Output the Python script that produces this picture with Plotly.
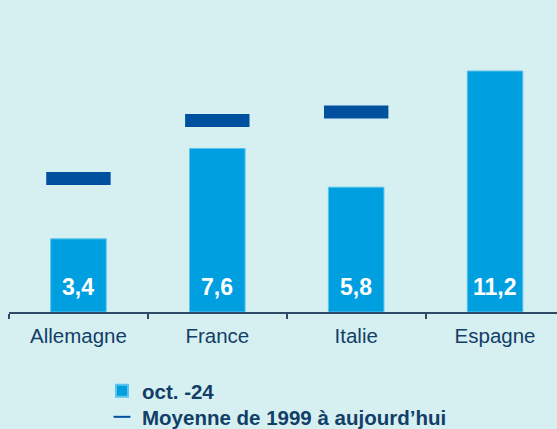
import plotly.graph_objects as go

categories = ["Allemagne", "France", "Italie", "Espagne"]
oct24_values = [3.4, 7.6, 5.8, 11.2]
avg_values = [6.2, 8.9, 9.3, None]
series_names = ["oct. -24", "Moyenne de 1999 à aujourd’hui"]

BG = "#D6F0F1"
BAR = "#00A0E0"
AVG = "#0050A0"
NAVY = "#123E68"
FONT = "Liberation Sans, Arial, sans-serif"

fig = go.Figure()
fig.add_trace(go.Bar(
    x=categories, y=oct24_values, name=series_names[0], legend="legend",
    width=0.4, marker=dict(color=BAR, line=dict(color="#5CC4EC", width=1)),
    hoverinfo="x+y",
))
fig.add_trace(go.Scatter(
    x=categories, y=avg_values, name=series_names[1], mode="markers", legend="legend2",
    marker=dict(symbol="line-ew", size=46, color=AVG, line=dict(color=AVG, width=13)),
))

for c, v in zip(categories, oct24_values):
    fig.add_annotation(
        x=c, y=0, yshift=25, text=f"<b>{v:.1f}</b>".replace(".", ","),
        showarrow=False, font=dict(family=FONT, size=23, color="white"),
        xanchor="center", yanchor="middle",
    )

legend_common = dict(
    xref="container", yref="container", x=102 / 557,
    xanchor="left", yanchor="top", orientation="v",
    font=dict(family=FONT, size=20.5, color=NAVY, weight="bold"),
    itemsizing="constant", bgcolor="rgba(0,0,0,0)",
)

fig.update_layout(
    width=557, height=429,
    paper_bgcolor=BG, plot_bgcolor=BG,
    margin=dict(l=8.5, r=0, t=0, b=117, autoexpand=False),
    font=dict(family=FONT, color=NAVY),
    showlegend=True,
    legend=dict(legend_common, y=1 - 371 / 429),
    legend2=dict(legend_common, y=1 - 397 / 429),
    xaxis=dict(
        type="category", range=[-0.5, 3.446], tickson="boundaries",
        ticks="outside", ticklen=5, tickwidth=1.5, tickcolor="#2F4B68",
        showline=True, linecolor="#2F4B68", linewidth=1.5,
        showgrid=False, zeroline=False, automargin=False, tickangle=0,
        ticklabelstandoff=5,
        tickfont=dict(family=FONT, size=20.5, color=NAVY),
    ),
    yaxis=dict(visible=False, range=[0, 14.5], showgrid=False, zeroline=False),
)

fig.write_html("out.html", post_script="document.body.style.margin='0';",
               config={"displayModeBar": False})
